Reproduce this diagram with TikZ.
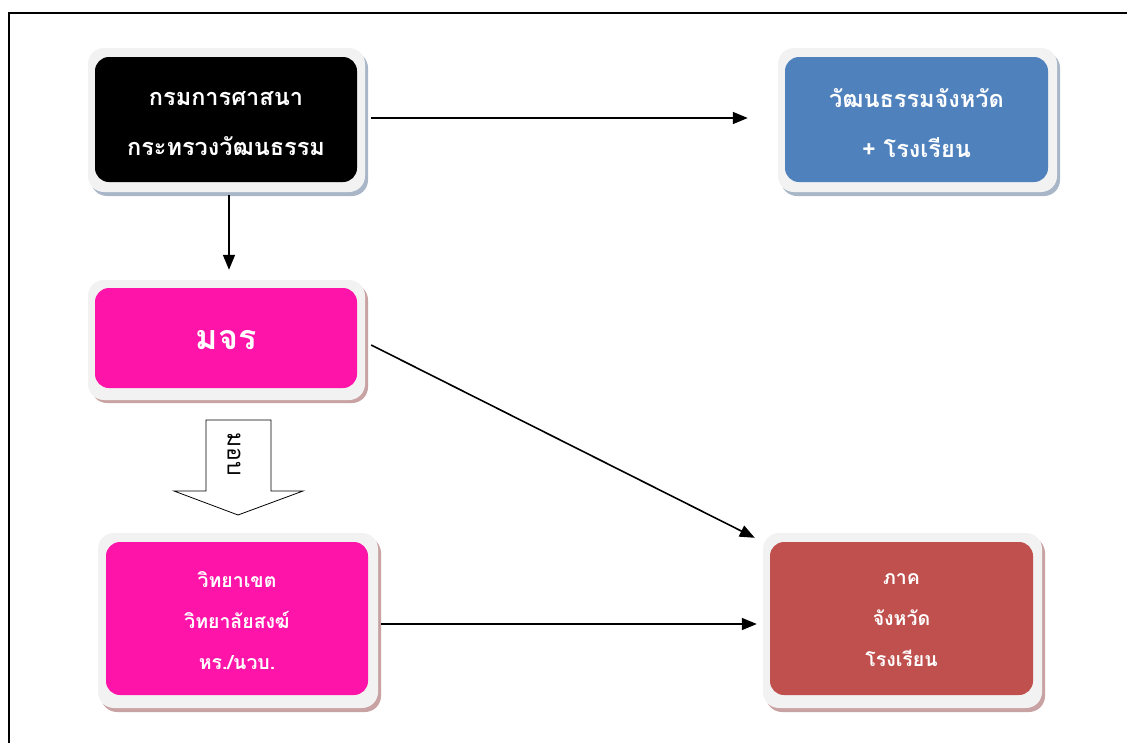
\documentclass[tikz,border=0pt]{standalone}
\usepackage{fontspec}
\newfontfamily\thaifont[Script=Thai]{Loma}
\usetikzlibrary{arrows.meta,calc}
\definecolor{dblue}{HTML}{4F81BD}
\definecolor{dmag}{HTML}{FF14AA}
\definecolor{dred}{HTML}{C0504D}
\definecolor{framegray}{HTML}{F2F2F2}
\definecolor{shblue}{HTML}{A9B6C8}
\definecolor{shred}{HTML}{C9A3A3}
\tikzset{
  frame/.style={draw=none, fill=framegray, rounded corners=16pt},
  inner/.style={draw=none, rounded corners=14pt},
  txt/.style={text=white, align=center, inner sep=0pt},
  conn/.style={line width=1.6pt, -{Triangle[length=15pt,width=12pt]}},
  blockarrow/.style={draw=black, line width=0.8pt, fill=white}
}
\begin{document}
\begin{tikzpicture}[x=1pt,y=-1pt]
\useasboundingbox (0,0) rectangle (1127,742);
% outer frame
\draw[line width=2pt] (9,760) -- (9,13) -- (1140,13);

% shadows
\fill[shblue, rounded corners=16pt] (91,52) rectangle (368,196);
\fill[shblue, rounded corners=16pt] (781,52) rectangle (1060,196);
\fill[shred, rounded corners=16pt] (91,284) rectangle (368,403);
\fill[shred, rounded corners=16pt] (101,537) rectangle (381,712);
\fill[shred, rounded corners=16pt] (766,537) rectangle (1045,712);

% white frames
\node[frame, minimum width=277pt, minimum height=144pt] (f1) at (226.5,120) {};
\node[frame, minimum width=279pt, minimum height=144pt] (f2) at (917.5,120) {};
\node[frame, minimum width=277pt, minimum height=120pt] (f3) at (226.5,340) {};
\node[frame, minimum width=280pt, minimum height=175pt] (f4) at (238,620.5) {};
\node[frame, minimum width=279pt, minimum height=175pt] (f5) at (902.5,620.5) {};

% coloured boxes
\node[inner, fill=black, minimum width=262pt, minimum height=125pt] (b1) at (226,119.5) {};
\node[inner, fill=dblue, minimum width=263pt, minimum height=125pt] (b2) at (916.5,119.5) {};
\node[inner, fill=dmag, minimum width=262pt, minimum height=100pt] (b3) at (226,338) {};
\node[inner, fill=dmag, minimum width=262pt, minimum height=153pt] (b4) at (237,618.5) {};
\node[inner, fill=dred, minimum width=263pt, minimum height=153pt] (b5) at (901.5,618.5) {};

% texts
\node[txt, font=\thaifont\bfseries\fontsize{23.5}{50}\selectfont] (t1) at ($(b1.center)+(0,4)$)
  {กรมการศาสนา\\กระทรวงวัฒนธรรม};
\node[txt, font=\thaifont\bfseries\fontsize{23.5}{50}\selectfont] (t2) at ($(b2.center)+(0,4)$)
  {วัฒนธรรมจังหวัด\\+ โรงเรียน};
\node[txt, font=\thaifont\bfseries\fontsize{34}{40}\selectfont] (t3) at ($(b3.center)+(0,2)$)
  {มจร};
\node[txt, font=\thaifont\bfseries\fontsize{19.5}{41}\selectfont] (t4) at ($(b4.center)+(0,2)$)
  {วิทยาเขต\\วิทยาลัยสงฆ์\\หร./นวบ.};
\node[txt, font=\thaifont\bfseries\fontsize{19.5}{41}\selectfont] (t5) at ($(b5.center)+(0,2)$)
  {ภาค\\จังหวัด\\โรงเรียน};

% connectors
\draw[conn] ($(f1.east)+(6,-2)$) -- ($(f2.west)+(-30,-2)$);
\draw[conn] ($(f1.south)+(2.5,3)$) -- ($(f3.north)+(2.5,-10)$);
\draw[conn] ($(f3.east)+(6,5)$) -- ($(f5.north west)+(-8,5)$);
\draw[conn] ($(f4.east)+(3,3.5)$) -- ($(f5.west)+(-6,3.5)$);

% block arrow
\draw[blockarrow] (206,420) -- (271,420) -- (271,491) -- (303,491) -- (238,515) -- (174,491) -- (206,491) -- cycle;
\node[rotate=-90, font=\thaifont\fontsize{23}{25}\selectfont, inner sep=0pt] (mob) at (234,454) {มอบ};
\end{tikzpicture}
\end{document}
